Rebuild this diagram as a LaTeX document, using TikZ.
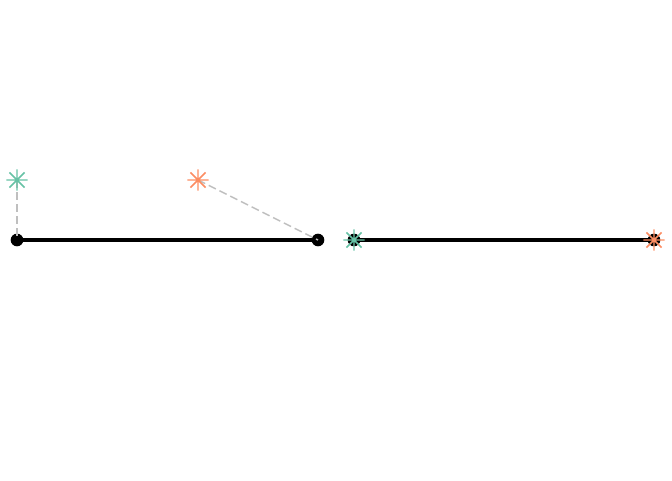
\documentclass[tikz,border=0pt]{standalone}
\begin{document}
\begin{tikzpicture}[x=0.75pt,y=-0.75pt,
  dotnode/.style={circle,fill=black,inner sep=0pt,minimum size=9.5pt},
  seg/.style={line width=2.8pt,black},
  link/.style={line width=1.1pt,color=black!25,dash pattern=on 6pt off 3pt},
  starmark/.pic={\draw[line width=1.1pt,color=#1] (-8pt,0)--(8pt,0) (0,-8pt)--(0,8pt) (-5.7pt,-5.7pt)--(5.7pt,5.7pt) (-5.7pt,5.7pt)--(5.7pt,-5.7pt);}]
\definecolor{setgreen}{HTML}{66C2A5}
\definecolor{setorange}{HTML}{FC8D62}
\useasboundingbox (0,0) rectangle (672,480);
\coordinate (s1) at (17,180);
\coordinate (s2) at (198,180);
\coordinate (p1) at (17,240);
\coordinate (p2) at (318,240);
\coordinate (p3) at (354,240);
\coordinate (p4) at (654,240);
\draw[seg] (p1) -- (p2);
\draw[seg] (p3) -- (p4);
\node[dotnode] (d1) at (p1) {};
\node[dotnode] (d2) at (p2) {};
\node[dotnode] (d3) at (p3) {};
\node[dotnode] (d4) at (p4) {};
\draw[link] (s1) -- (d1.center);
\draw[link] (s2) -- (d2.center);
\pic at (s1) {starmark=setgreen};
\pic at (s2) {starmark=setorange};
\pic at (p3) {starmark=setgreen};
\pic at (p4) {starmark=setorange};
\end{tikzpicture}
\end{document}
